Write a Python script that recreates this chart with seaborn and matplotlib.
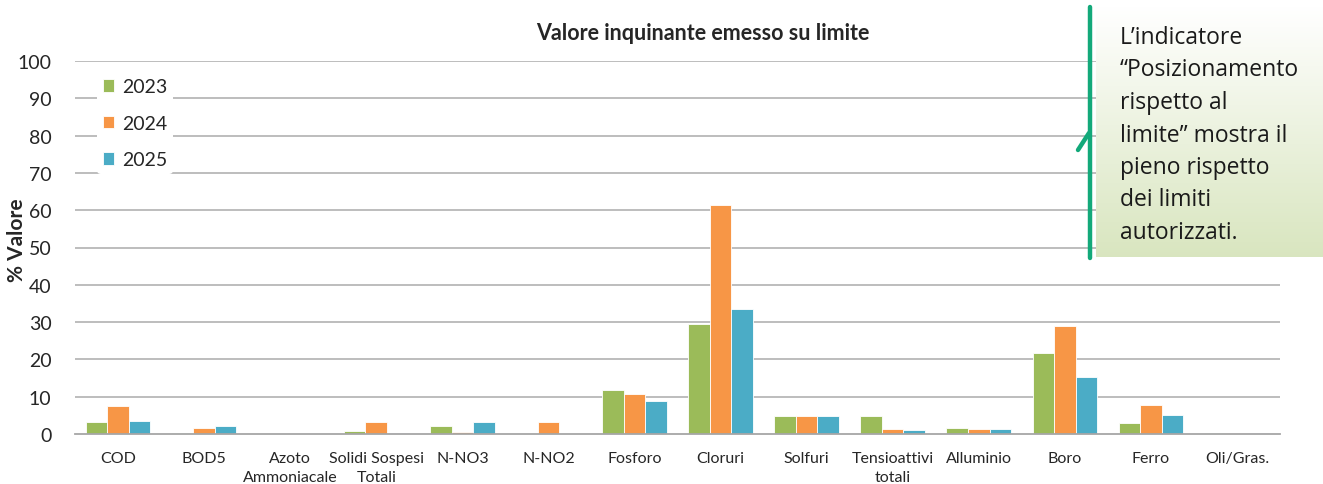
"""Valore inquinante emesso su limite - grouped bars by year."""

import numpy as np
import pandas as pd
import matplotlib
matplotlib.use("Agg")
import matplotlib.pyplot as plt
from matplotlib.lines import Line2D
import seaborn as sns

categories = ["COD", "BOD5", "Azoto\nAmmoniacale", "Solidi Sospesi\nTotali", "N-NO3",
              "N-NO2", "Fosforo", "Cloruri", "Solfuri", "Tensioattivi\ntotali",
              "Alluminio", "Boro", "Ferro", "Oli/Gras."]
years = ["2023", "2024", "2025"]
v2023 = [3.2, 0.35, 0.0, 0.7, 2.2, 0.0, 11.9, 29.4, 4.9, 4.9, 1.6, 21.7, 3.0, 0.2]
v2024 = [7.4, 1.7, 0.0, 3.2, 0.6, 3.2, 10.7, 61.5, 4.9, 1.3, 1.4, 28.9, 7.9, 0.2]
v2025 = [3.4, 2.2, 0.0, 0.4, 3.3, 0.0, 8.9, 33.4, 4.9, 1.0, 1.4, 15.3, 5.0, 0.2]
colors = ["#9bbb59", "#f79646", "#4bacc6"]

note_lines = ["L\u2019indicatore", "\u201cPosizionamento", "rispetto al",
              "limite\u201d mostra il", "pieno rispetto", "dei limiti", "autorizzati."]

sns.set_style("white")
plt.rcParams["font.family"] = ["Lato", "DejaVu Sans"]

df = pd.DataFrame({
    "categoria": categories * 3,
    "anno": np.repeat(years, len(categories)),
    "valore": v2023 + v2024 + v2025,
})

fig = plt.figure(figsize=(13.23, 4.85), dpi=100)
ax = fig.add_axes([75 / 1323, 50 / 485, 1205 / 1323, 373 / 485])

sns.barplot(data=df, x="categoria", y="valore", hue="anno", palette=colors,
            saturation=1, width=0.75, edgecolor="white", linewidth=0.6,
            ax=ax, legend=True)

ax.set_ylim(0, 100)
ax.set_yticks(range(0, 101, 10))
ax.set_xlim(-0.5, len(categories) - 0.5)
for y in range(10, 101, 10):
    ax.axhline(y, color="#b8b8b8", lw=1.3, zorder=0)
ax.set_axisbelow(True)
sns.despine(ax=ax, left=True, top=True, right=True)
ax.spines["bottom"].set_color("#a6a6a6")
ax.spines["bottom"].set_linewidth(1.3)
ax.tick_params(axis="both", length=0)
ax.tick_params(axis="y", labelsize=14, pad=17)
ax.tick_params(axis="x", labelsize=11.5, pad=12)
for lab in ax.get_xticklabels():
    lab.set_linespacing(1.45)
ax.set_xlabel("")
ax.set_ylabel("")

fig.text(17 / 1323, 1 - 240 / 485, "% Valore", rotation=90, fontsize=15,
         fontweight="bold", ha="center", va="center")
fig.text(703 / 1323, 1 - 34 / 485, "Valore inquinante emesso su limite",
         fontsize=15.5, fontweight="bold", ha="center", va="center")

leg = ax.legend(loc="upper left", bbox_to_anchor=(0.01, 0.995), frameon=True,
                fontsize=14, handlelength=0.6, handleheight=0.6,
                handletextpad=0.4, labelspacing=1.0, borderpad=0.3)
leg.get_frame().set_facecolor("white")
leg.get_frame().set_edgecolor("none")
leg.get_frame().set_alpha(1)

# note box with vertical gradient
bax = fig.add_axes([1096 / 1323, 1 - 258 / 485, 227 / 1323, 250 / 485])
top = np.array([1.0, 1.0, 1.0])
bottom = np.array([0.85, 0.90, 0.75])
t = np.linspace(0, 1, 256)[:, None]
grad = top * (1 - t) + bottom * t
bax.imshow(grad[:, None, :].repeat(2, axis=1), aspect="auto", extent=(0, 1, 0, 1))
bax.set_axis_off()

fig.add_artist(Line2D([1090 / 1323, 1090 / 1323], [1 - 8 / 485, 1 - 259 / 485],
                      color="#13a97a", lw=3.2, transform=fig.transFigure))
fig.add_artist(Line2D([1078 / 1323, 1089 / 1323], [1 - 151 / 485, 1 - 134 / 485],
                      color="#13a97a", lw=3.2, transform=fig.transFigure))

for i, line in enumerate(note_lines):
    fig.text(1120 / 1323, 1 - (38 + i * 32.5) / 485, line, fontsize=16.5,
             family=["Open Sans", "DejaVu Sans"], ha="left", va="center",
             color="#1a1a1a")

fig.savefig("out.png", dpi=100)
